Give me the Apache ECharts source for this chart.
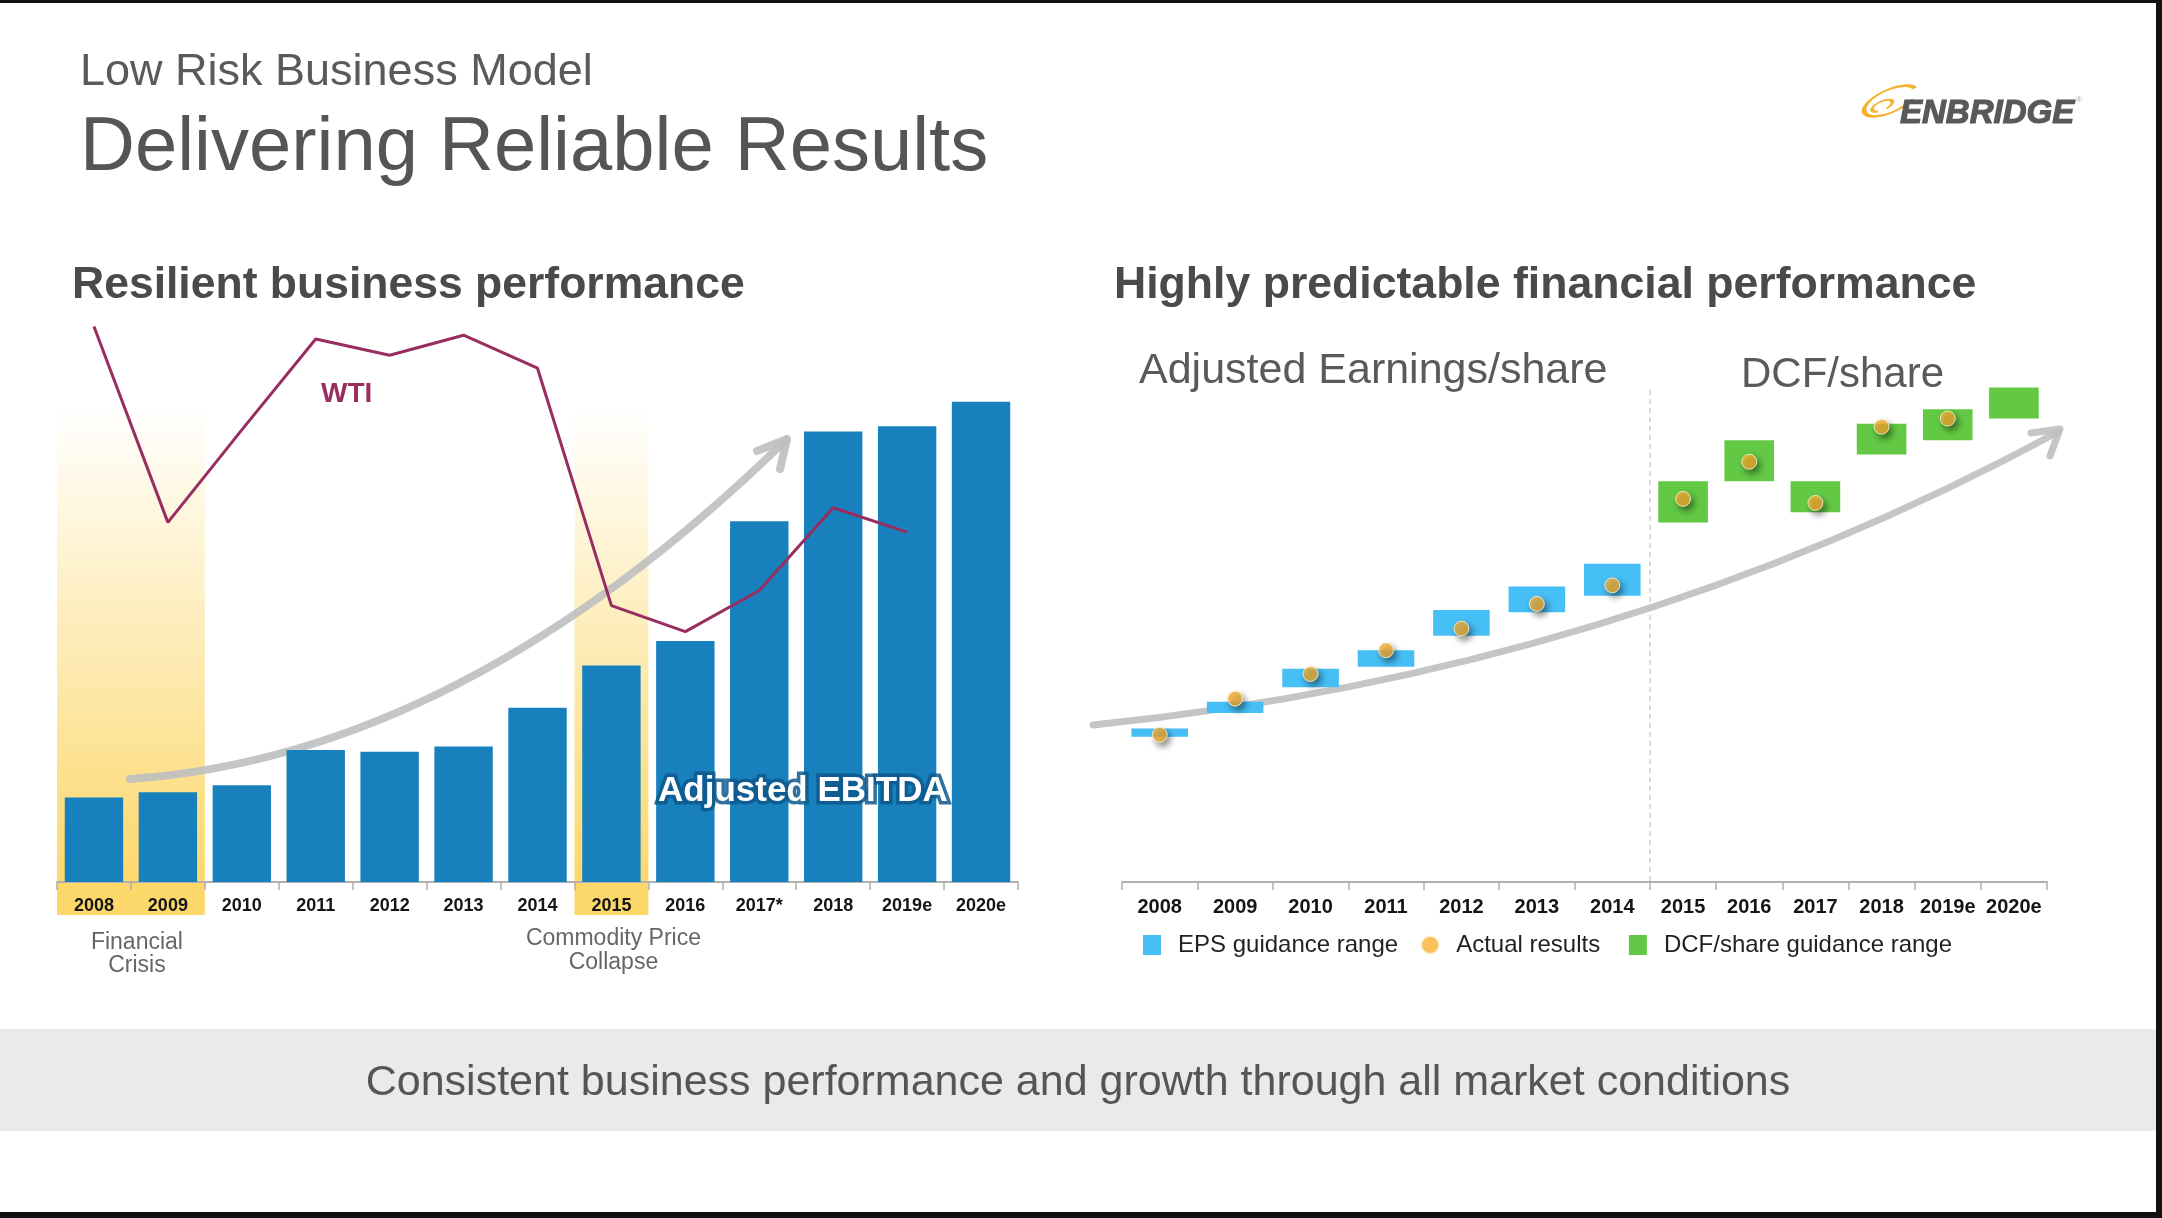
<!DOCTYPE html>
<html>
<head>
<meta charset="utf-8">
<script src="https://cdn.jsdelivr.net/npm/echarts@6/dist/echarts.min.js"></script>
<style>
html,body{margin:0;padding:0;background:#fff;}
#chart{width:2162px;height:1218px;}
</style>
</head>
<body>
<div id="chart"></div>
<script>
// ---------- data ----------
const years = ['2008','2009','2010','2011','2012','2013','2014','2015','2016','2017*','2018','2019e','2020e'];
const ebitda = [2.4, 2.55, 2.75, 3.75, 3.7, 3.85, 4.95, 6.15, 6.85, 10.25, 12.8, 12.95, 13.65];
const wti = [99.7, 63.5, 80.6, 97.4, 94.4, 98.1, 92.0, 48.1, 43.3, 50.9, 66.2, 61.7, null];

const epsYears = ['2008','2009','2010','2011','2012','2013','2014'];
const epsLow = [1.41, 1.64, 1.89, 2.09, 2.39, 2.62, 2.78];
const epsHigh = [1.49, 1.75, 2.07, 2.25, 2.64, 2.87, 3.09];
const epsActual = [1.43, 1.78, 2.02, 2.25, 2.46, 2.70, 2.88];

const dcfYears = ['2015','2016','2017','2018','2019e','2020e'];
const dcfLow = [3.49, 3.89, 3.59, 4.15, 4.29, 4.50];
const dcfHigh = [3.89, 4.29, 3.89, 4.45, 4.59, 4.80];
const dcfActual = [3.72, 4.08, 3.68, 4.42, 4.50, '-'];

const highlightYears = ['2008','2009','2015'];

// ---------- styles ----------
const FONT = "'Liberation Sans', Arial, sans-serif";
const BAR = '#1780bd';
const WTI_C = '#982d60';
const EPS_C = '#46bef6';
const DCF_C = '#63c944';
const DOT_C = '#f8b133';
const AXIS_C = '#b0b0b0';

const chart = echarts.init(document.getElementById('chart'), null, {renderer:'canvas'});

function boxRender(color){
  return function(params, api){
    const lo = api.coord([api.value(0), api.value(1)]);
    const hi = api.coord([api.value(0), api.value(2)]);
    const w = api.size([1,0])[0]*0.75;
    return {type:'rect', shape:{x:lo[0]-w/2, y:hi[1], width:w, height:lo[1]-hi[1]}, style:{fill:color}};
  };
}
const dotStyle = {color:DOT_C, borderColor:'#fff6e0', borderWidth:1, shadowBlur:6, shadowColor:'rgba(0,0,0,0.55)', shadowOffsetX:3, shadowOffsetY:4};

const catAxisBase = {
  type:'category',
  axisLine:{lineStyle:{color:AXIS_C, width:2}},
  axisTick:{show:true, length:8, interval:0, lineStyle:{color:AXIS_C, width:1.5}},
  splitLine:{show:false}
};

chart.setOption({
  animation:false,
  textStyle:{fontFamily:FONT},
  grid:[
    {left:57, top:319, width:961, height:563},
    {left:1122, top:367, width:528, height:515},
    {left:1650, top:367, width:397, height:515}
  ],
  xAxis:[
    Object.assign({}, catAxisBase, {gridIndex:0, data:years,
      axisLabel:{interval:0, margin:15, fontSize:18, fontWeight:'bold', color:'#151515', fontFamily:FONT}}),
    Object.assign({}, catAxisBase, {gridIndex:1, data:epsYears,
      axisLabel:{interval:0, margin:15, fontSize:20, fontWeight:'bold', color:'#151515', fontFamily:FONT}}),
    Object.assign({}, catAxisBase, {gridIndex:2, data:dcfYears,
      axisLabel:{interval:0, margin:15, fontSize:20, fontWeight:'bold', color:'#151515', fontFamily:FONT}})
  ],
  yAxis:[
    {type:'value', gridIndex:0, min:0, max:16, show:false},
    {type:'value', gridIndex:0, min:-3, max:101.1, show:false},
    {type:'value', gridIndex:1, min:0, max:5, show:false},
    {type:'value', gridIndex:2, min:0, max:5, show:false}
  ],
  legend:{
    left:1138, top:928, itemWidth:18, itemHeight:20, itemGap:22,
    data:[
      {name:'EPS guidance range', icon:'rect'},
      {name:'Actual results', icon:'circle'},
      {name:'DCF/share guidance range', icon:'rect'}
    ],
    formatter: function(name){ return name === 'Actual results' ? name + ' ' : name; },
    textStyle:{fontSize:24, color:'#222', fontFamily:FONT, padding:[0,0,0,12]}
  },
  series:[
    {name:'Adjusted EBITDA', type:'bar', xAxisIndex:0, yAxisIndex:0, data:ebitda,
      barCategoryGap:'21%', itemStyle:{color:BAR}, z:3},
    {name:'WTI', type:'line', xAxisIndex:0, yAxisIndex:1, data:wti, symbol:'none',
      lineStyle:{color:WTI_C, width:3}, itemStyle:{color:WTI_C}, z:5},
    {name:'EPS guidance range', type:'custom', xAxisIndex:1, yAxisIndex:2,
      data:epsYears.map((y,i)=>[i, epsLow[i], epsHigh[i]]), encode:{x:0, y:[1,2]},
      itemStyle:{color:EPS_C}, renderItem:boxRender(EPS_C), z:3},
    {name:'DCF/share guidance range', type:'custom', xAxisIndex:2, yAxisIndex:3,
      data:dcfYears.map((y,i)=>[i, dcfLow[i], dcfHigh[i]]), encode:{x:0, y:[1,2]},
      itemStyle:{color:DCF_C}, renderItem:boxRender(DCF_C), z:3},
    {name:'Actual results', type:'scatter', xAxisIndex:1, yAxisIndex:2, data:epsActual,
      symbolSize:15, itemStyle:dotStyle, z:6},
    {name:'Actual results', type:'scatter', xAxisIndex:2, yAxisIndex:3, data:dcfActual,
      symbolSize:15, itemStyle:dotStyle, z:6}
  ]
});

// ---------- decorations positioned from the library's scales ----------
const p0 = chart.convertToPixel({xAxisIndex:0, yAxisIndex:0}, [0, 0]);
const p1 = chart.convertToPixel({xAxisIndex:0, yAxisIndex:0}, [1, 0]);
const catW = p1[0]-p0[0];
const base = p0[1];
const bandTop = 405;
const grad = new echarts.graphic.LinearGradient(0,0,0,1,[
  {offset:0, color:'rgba(252,214,98,0)'},
  {offset:1, color:'rgba(252,212,96,0.92)'}
]);
const g = [];
function bandFor(startIdx, count, id){
  const c = chart.convertToPixel({xAxisIndex:0, yAxisIndex:0}, [startIdx, 0]);
  const x = c[0]-catW/2;
  g.push({type:'rect', id:id+'g', z:-10, shape:{x:x, y:bandTop, width:catW*count, height:base-bandTop}, style:{fill:grad}});
  g.push({type:'rect', id:id+'l', z:-10, shape:{x:x, y:base, width:catW*count, height:33}, style:{fill:'#fcd86b'}});
  return x + catW*count/2;
}
const fcX = bandFor(years.indexOf(highlightYears[0]), 2, 'b1');
const cpX = bandFor(years.indexOf(highlightYears[2]), 1, 'b2');

// slide frame
g.push({type:'rect', id:'bottomband', z:-20, shape:{x:0, y:1029, width:2156, height:102}, style:{fill:'#e9eaea'}});
g.push({type:'rect', id:'bt', z:200, shape:{x:0, y:0, width:2162, height:3}, style:{fill:'#111'}});
g.push({type:'rect', id:'br', z:200, shape:{x:2156, y:0, width:6, height:1218}, style:{fill:'#111'}});
g.push({type:'rect', id:'bb', z:200, shape:{x:0, y:1212, width:2162, height:6}, style:{fill:'#111'}});

function txt(id, text, x, y, size, color, extra){
  extra = extra || {};
  g.push({type:'text', id:id, z:extra.z || 100, x:x, y:y, style:Object.assign({text:text, fill:color,
    font:(extra.weight ? extra.weight+' ' : '')+size+'px '+FONT,
    textVerticalAlign:'middle', textAlign:extra.align || 'left'}, extra.style || {})});
}
txt('t1', 'Low Risk Business Model', 80, 73, 45, '#5a5a5a');
txt('t2', 'Delivering Reliable Results', 80, 149, 76, '#555555');
txt('t3', 'Resilient business performance', 72, 286, 44.5, '#4a4a4a', {weight:'bold'});
txt('t4', 'Highly predictable financial performance', 1114, 286, 44.6, '#4a4a4a', {weight:'bold'});
txt('t5', 'Adjusted Earnings/share', 1139, 371, 43, '#5a5a5a');
txt('t6', 'DCF/share', 1741, 375, 42, '#5a5a5a');
txt('t7', 'WTI', 321, 394, 28, WTI_C, {weight:'bold'});
// glowing label
txt('t8b', 'Adjusted EBITDA', 658, 791, 35, '#0e5b92', {weight:'bold', z:99,
  style:{stroke:'rgba(14,88,140,0.85)', lineWidth:7, lineJoin:'round', shadowColor:'#03304f', shadowBlur:16}});
txt('t8', 'Adjusted EBITDA', 658, 791, 35, '#ffffff', {weight:'bold', z:101});
txt('t9', 'Financial', fcX+6, 943, 23, '#666', {align:'center'});
txt('t10', 'Crisis', fcX+6, 966, 23, '#666', {align:'center'});
txt('t11', 'Commodity Price', cpX+2, 939, 23, '#666', {align:'center'});
txt('t12', 'Collapse', cpX+2, 963, 23, '#666', {align:'center'});
txt('t13', 'Consistent business performance and growth through all market conditions', 1078, 1083, 43, '#555', {align:'center'});

// growth arrows
const arrowStyle = {stroke:'rgba(190,191,192,0.9)', lineWidth:8, fill:null, lineCap:'round', lineJoin:'round'};
g.push({type:'bezierCurve', id:'a1', z:-5, shape:{x1:130, y1:779, cpx1:462, cpy1:756, x2:786, y2:440}, style:arrowStyle});
g.push({type:'polyline', id:'a1h', z:-5, shape:{points:[[757,451],[787,439],[780,469]]}, style:arrowStyle});
const arrowStyle2 = Object.assign({}, arrowStyle, {lineWidth:7});
g.push({type:'bezierCurve', id:'a2', z:1, shape:{x1:1093, y1:725, cpx1:1615, cpy1:672, x2:2058, y2:432}, style:arrowStyle2});
g.push({type:'polyline', id:'a2h', z:1, shape:{points:[[2031,433],[2060,429],[2050,456]]}, style:arrowStyle2});

// divider between EPS and DCF panels
const dv = chart.convertToPixel({xAxisIndex:2, yAxisIndex:3}, [0, 0]);
const catW2 = chart.convertToPixel({xAxisIndex:2, yAxisIndex:3}, [1, 0])[0]-dv[0];
g.push({type:'line', id:'dv', z:-5, shape:{x1:dv[0]-catW2/2, y1:390, x2:dv[0]-catW2/2, y2:dv[1]}, style:{stroke:'#cfcfcf', lineWidth:1.5, lineDash:[5,4]}});

// logo
g.push({type:'group', id:'logo', z:100, x:1890, y:101, children:[
  {type:'group', rotation:0.42, scaleY:0.4, children:[
    {type:'arc', shape:{cx:0, cy:0, r:28, startAngle:0.7, endAngle:6.15}, style:{stroke:'#f6b22f', lineWidth:5, fill:null}},
    {type:'arc', shape:{cx:-9, cy:3, r:11, startAngle:2.2, endAngle:7.6}, style:{stroke:'#f6b22f', lineWidth:4, fill:null}}
  ]},
  {type:'text', x:10, y:13, style:{text:'ENBRIDGE', font:'italic bold 33px '+FONT, fill:'#58595b', stroke:'#58595b', lineWidth:1.2, textVerticalAlign:'middle'}},
  {type:'text', x:186, y:-1, style:{text:'®', font:'8px '+FONT, fill:'#aaa', textVerticalAlign:'middle'}}
]});

chart.setOption({graphic:{elements:g}});
</script>
</body>
</html>
